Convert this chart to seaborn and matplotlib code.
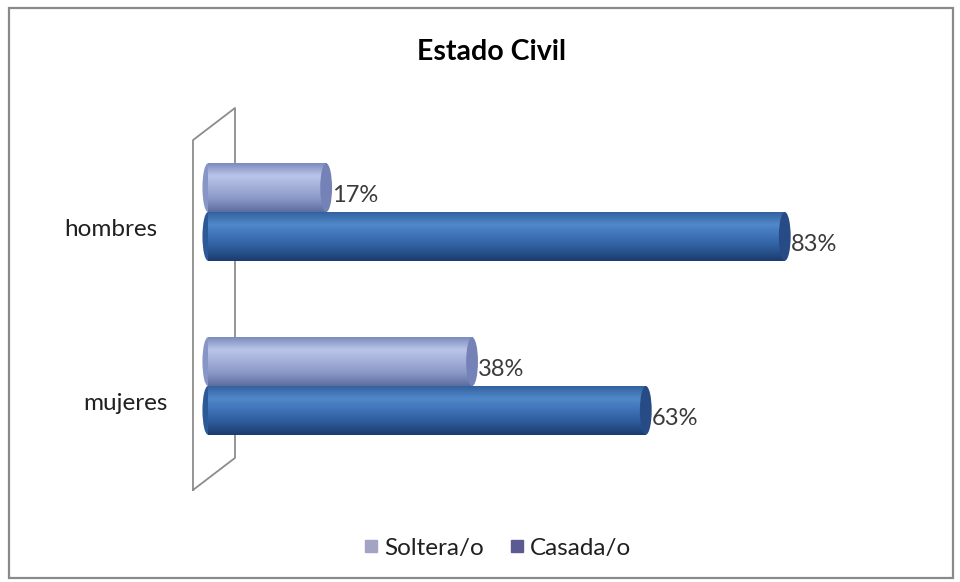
import matplotlib
matplotlib.use("Agg")
import matplotlib.pyplot as plt
import seaborn as sns
import numpy as np
import pandas as pd
from matplotlib.colors import LinearSegmentedColormap
from matplotlib.patches import Ellipse, Rectangle
from matplotlib.lines import Line2D

# Data
categorias = ["hombres", "mujeres"]
estados = ["Soltera/o", "Casada/o"]
soltera = [17, 38]
casada = [83, 63]

df = pd.DataFrame({
    "sexo": categorias * 2,
    "estado": [estados[0]] * 2 + [estados[1]] * 2,
    "valor": soltera + casada,
})

# cylinder shading, top -> bottom
shades = {
    "Soltera/o": ["#7c8cbe", "#b9c5e8", "#a3afd8", "#8796c6", "#5d6d9e"],
    "Casada/o": ["#33629f", "#5189ca", "#3d71b6", "#2c5a98", "#1b3c6e"],
}
caps = {"Soltera/o": "#7482b8", "Casada/o": "#264b85"}
legend_colors = {"Soltera/o": "#a3a3c4", "Casada/o": "#5c5b91"}

sns.set_style("white")
plt.rcParams["font.family"] = ["Lato", "DejaVu Sans"]

fig = plt.figure(figsize=(9.6, 5.82), dpi=100)
fig.patch.set_facecolor("white")
# outer frame
fig.patches.append(Rectangle((9 / 960, 4 / 582), 944 / 960, 570 / 582,
                             transform=fig.transFigure, fill=False,
                             edgecolor="#8a8a8a", linewidth=1.6))

ax = fig.add_axes([193 / 960, 92 / 582, 737 / 960, 382 / 582])
sns.barplot(data=df, x="valor", y="sexo", hue="estado", orient="h",
            width=0.56, palette=[shades[e][2] for e in estados],
            order=categorias, hue_order=estados, legend=False, ax=ax,
            edgecolor="none", linewidth=0)

xlim = (-2.16, 103.9)
ylim = (1.598, -0.598)

for estado, cont in zip(estados, ax.containers):
    cmap = LinearSegmentedColormap.from_list(estado, shades[estado])
    grad = np.linspace(0, 1, 64).reshape(-1, 1)
    for bar in cont:
        x0, y0 = bar.get_x(), bar.get_y()
        w, h = bar.get_width(), bar.get_height()
        # rounded left end
        left = Ellipse((x0, y0 + h / 2), 1.6, h, facecolor=shades[estado][3],
                       edgecolor="none", zorder=1.5)
        ax.add_patch(left)
        img = ax.imshow(grad, extent=[x0, x0 + w, y0 + h, y0], aspect="auto",
                        cmap=cmap, origin="upper", zorder=2, interpolation="bicubic")
        img.set_clip_path(bar)
        # end cap
        cap = Ellipse((x0 + w, y0 + h / 2), 1.7, h, facecolor=caps[estado],
                      edgecolor="none", zorder=3)
        ax.add_patch(cap)
        ax.text(x0 + w + 0.9, y0 + h / 2 + 0.045, f"{w:.0f}%", ha="left",
                va="center", fontsize=17, color="#3a3a3a", zorder=4)

ax.set_xlim(xlim)
ax.set_ylim(ylim)

# 3D wall
wx = (235 - 193) / 737
ax.plot([0, 0, wx, wx, 0], [0, 0.916, 1, 0.084, 0], transform=ax.transAxes,
        color="#8c8c8c", linewidth=1.3, clip_on=False, zorder=1)

# category labels
for i, cat in enumerate(categorias):
    xa = [-0.049, -0.034][i]
    ax.text(xa, i + 0.10, cat, transform=ax.get_yaxis_transform(), ha="right",
            va="center", fontsize=17.5, color="#202020")

ax.set_xticks([])
ax.set_yticks([])
ax.set_xlabel("")
ax.set_ylabel("")
for s in ax.spines.values():
    s.set_visible(False)
ax.patch.set_alpha(0)

fig.text(492 / 960, 1 - 52 / 582, "Estado Civil", ha="center", va="center",
         fontsize=20.5, fontweight="bold", color="#000000")

handles = [Line2D([], [], marker="s", linestyle="", markersize=8,
                  color=legend_colors[e]) for e in estados]
fig.legend(handles, estados, loc="center", bbox_to_anchor=(497 / 960, 1 - 548 / 582),
           ncol=2, frameon=False, fontsize=17.5, handletextpad=0.2,
           columnspacing=1.0, handlelength=0.7, labelcolor="#202020")

fig.savefig("out.png", dpi=100, facecolor="white")
